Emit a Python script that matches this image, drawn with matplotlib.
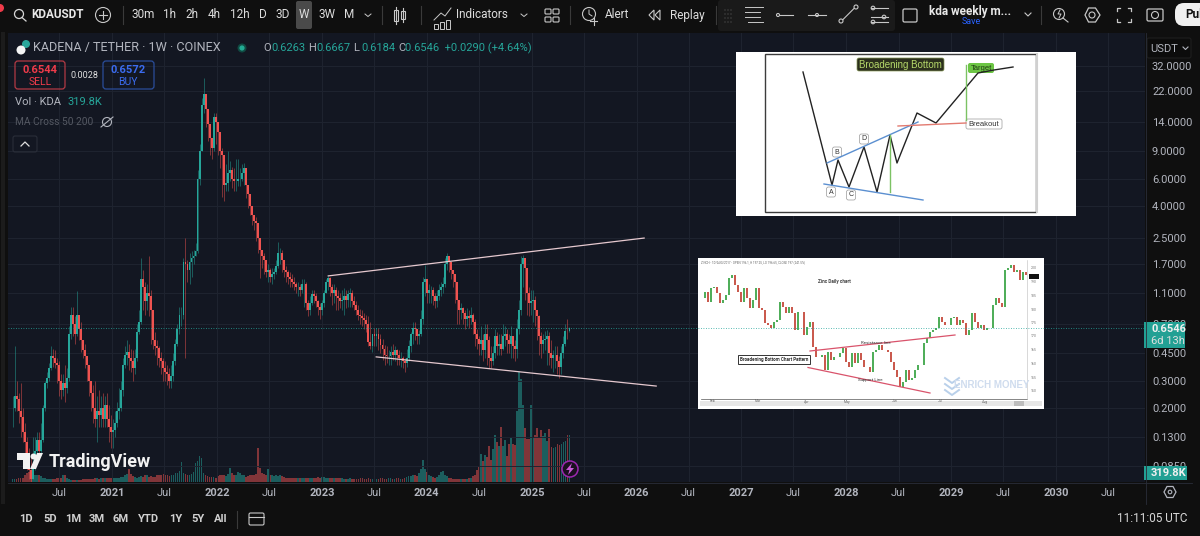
import datetime as dt
import matplotlib
matplotlib.use("Agg")
from matplotlib import pyplot as plt
from matplotlib import dates as mdates
from matplotlib.lines import Line2D
from matplotlib.patches import Circle, FancyBboxPatch, Polygon, Rectangle
from matplotlib.ticker import NullFormatter, NullLocator

# KDA weekly candles, one value per week
closes = [
    .20, .24, .23, .19, .175, .14, .12, .10, .08, .07,
    .085, .105, .125, .105, .125, .20, .29, .31, .36, .43,
    .42, .39, .38, .30, .26, .29, .27, .31, .60, .80,
    .70, .60, .80, .65, .55, .47, .43, .38, .30, .25,
    .20, .17, .19, .18, .20, .17, .21, .17, .15, .14,
    .145, .16, .19, .20, .26, .38, .44, .46, .42, .40,
    .36, .42, .62, .72, 1.35, 1.2, .98, 1.1, 1.05, .85,
    .55, .50, .49, .42, .40, .36, .34, .33, .30, .32,
    .40, .52, .65, .80, .80, 1.75, 1.7, 1.55, 1.75, 1.85,
    1.9, 2.05, 6.0, 9, 18, 21, 17, 13.5, 11, 9.5,
    15, 14, 12, 9, 8.5, 5.5, 5.6, 6.5, 6.8, 6.0,
    5.8, 5.8, 6.0, 6.0, 6.5, 7.0, 5.5, 4.8, 4.0, 3.5,
    3.2, 3.1, 2.5, 2.1, 1.9, 1.8, 1.5, 1.55, 1.4, 1.45,
    1.5, 1.65, 2.0, 2.0, 1.8, 1.55, 1.5, 1.4, 1.35, 1.3,
    1.25, 1.2, 1.2, 1.15, 1.25, 1.25, .95, .85, .95, 1.08,
    1.05, .98, .90, .85, .95, 1.1, 1.3, 1.38, 1.2, 1.1,
    1.15, 1.05, 1.02, .98, 1.0, 1.05, 1.0, 1.08, 1.1, .98,
    .92, .86, .80, .78, .76, .74, .70, .53, .50, .60,
    .58, .60, .56, .51, .48, .44, .43, .43, .46, .44,
    .47, .44, .42, .42, .40, .39, .42, .50, .60, .66,
    .65, .58, .60, .75, 1.3, 1.35, 1.1, 1.15, 1.15, 1.05,
    .98, 1.05, 1.15, 1.2, 1.25, 1.7, 1.9, 1.75, 1.55, 1.45,
    1.3, 1.0, .85, .88, .82, .75, .78, .76, .80, .72,
    .60, .56, .52, .55, .47, .60, .55, .42, .40, .45,
    .58, .50, .52, .48, .58, .60, .55, .52, .58, .50,
    .48, .65, .85, 1.7, 1.85, 1.6, 1.1, .95, .98, 1.0,
    .85, .78, .58, .52, .55, .56, .58, .45, .42, .44,
    .44, .40, .37, .45, .52, .63, .6263, .6546,
]
highs = [
    .24, .50, .30, .25, .29, .20, .16, .13, .11, .10,
    .13, .13, .14, .14, .16, .21, .30, .34, .39, .50,
    .48, .47, .42, .40, .33, .33, .38, .36, .68, .89,
    .90, .78, 1.13, .80, .72, .55, .52, .43, .36, .30,
    .28, .30, .24, .26, .24, .25, .24, .25, .21, .18,
    .17, .19, .22, .27, .30, .42, .50, .55, .52, .48,
    .47, .48, .70, .85, 1.86, 1.55, 1.30, 1.25, 1.92, 1.15,
    .70, .62, .55, .50, .46, .42, .40, .38, .36, .38,
    .45, .56, .70, .90, .90, 1.85, 2.5, 1.8, 2.0, 2.05,
    2.1, 2.3, 6.8, 10, 20, 26.7, 21, 15, 13, 11,
    16, 16, 14, 10, 9.5, 7, 7.5, 9.1, 7.8, 7.2,
    7, 8, 8, 7, 7.5, 7.6, 6, 5.2, 4.4, 3.9,
    3.4, 3.4, 3.1, 2.4, 2.1, 2.0, 1.8, 1.7, 1.6, 1.6,
    1.6, 1.8, 2.34, 2.15, 2.1, 1.75, 1.65, 1.55, 1.5, 1.45,
    1.4, 1.3, 1.3, 1.25, 1.35, 1.35, 1.3, 1.0, 1.05, 1.15,
    1.15, 1.1, 1.0, .95, 1.0, 1.15, 1.35, 1.42, 1.4, 1.25,
    1.25, 1.2, 1.15, 1.1, 1.15, 1.18, 1.15, 1.15, 1.18, 1.15,
    1.05, .98, .92, .87, .85, .82, .80, .78, .72, .60,
    .66, .66, .66, .60, .56, .51, .50, .47, .50, .52,
    .50, .48, .47, .46, .43, .42, .48, .55, .62, .72,
    .72, .65, .64, .85, 1.4, 1.66, 1.25, 1.25, 1.22, 1.2,
    1.1, 1.15, 1.25, 1.3, 1.4, 1.85, 2.0, 1.9, 1.65, 1.55,
    1.4, 1.1, .95, .95, .9, .85, .88, .85, .90, .82,
    .75, .65, .58, .68, .60, .70, .70, .58, .50, .50,
    .65, .62, .60, .60, .70, .68, .65, .60, .68, .58,
    .55, .75, 1.0, 1.9, 1.95, 1.8, 1.3, 1.2, 1.15, 1.15,
    1.05, .85, .80, .62, .60, .63, .64, .62, .55, .47,
    .50, .50, .43, .50, .58, .70, .75, .6667,
]
lows = [
    .15, .19, .19, .16, .13, .12, .10, .08, .07, .066,
    .07, .08, .10, .10, .10, .12, .19, .27, .30, .35,
    .37, .36, .29, .24, .23, .24, .22, .25, .30, .56,
    .58, .52, .58, .55, .46, .42, .36, .30, .24, .19,
    .16, .15, .12, .15, .15, .15, .15, .15, .12, .11,
    .11, .13, .15, .17, .19, .24, .36, .38, .35, .34,
    .30, .33, .40, .60, .70, .85, .80, .85, .78, .52,
    .48, .44, .38, .37, .33, .30, .30, .28, .27, .27,
    .30, .38, .50, .60, .68, .75, .42, 1.3, 1.25, 1.4,
    1.7, 1.9, 2.0, 5.5, 9, 16, 13, 10.5, 8.5, 8,
    9, 10, 8.5, 7, 4.6, 4.3, 5, 5, 5.8, 5.2,
    5, 5, 5.4, 5.4, 5.8, 5.5, 4.5, 3.9, 3.5, 3.0,
    2.8, 2.4, 2.0, 1.38, 1.6, 1.45, 1.4, 1.3, 1.3, 1.25,
    1.35, 1.45, 1.6, 1.7, 1.5, 1.4, 1.3, 1.25, 1.2, 1.2,
    1.15, 1.1, 1.05, 1.05, 1.1, .90, .85, .78, .80, .92,
    .95, .90, .80, .75, .80, .90, 1.1, 1.15, 1.05, .92,
    .95, .85, .85, .88, .85, .80, .88, .90, .90, .90,
    .85, .80, .74, .70, .68, .65, .62, .50, .48, .46,
    .50, .50, .47, .45, .41, .38, .39, .38, .38, .41,
    .40, .38, .38, .37, .36, .34, .37, .40, .46, .52,
    .55, .52, .52, .58, .70, 1.05, .95, .95, .95, .92,
    .88, .90, 1.0, 1.05, 1.1, 1.2, 1.55, 1.5, 1.35, 1.2,
    .95, .70, .70, .75, .70, .65, .68, .66, .70, .60,
    .50, .48, .44, .44, .40, .42, .38, .36, .36, .38,
    .42, .44, .44, .44, .47, .50, .45, .45, .42, .42,
    .40, .42, .60, .80, 1.2, 1.0, .80, .78, .80, .72,
    .68, .55, .44, .42, .45, .47, .38, .38, .36, .34,
    .36, .33, .31, .33, .42, .50, .56, .6184,
]
# weekly volume, thousands of KDA
volumes = [
    20, 20, 20, 25, 25, 25, 50, 60, 70, 55,
    55, 50, 50, 45, 40, 30, 25, 20, 20, 20,
    20, 20, 25, 25, 25, 45, 50, 30, 20, 15,
    15, 14, 14, 14, 14, 18, 18, 20, 18, 20,
    20, 25, 25, 20, 25, 30, 30, 25, 28, 25,
    30, 28, 30, 30, 35, 35, 50, 55, 85, 55,
    40, 35, 30, 35, 40, 35, 45, 50, 35, 40,
    35, 35, 50, 45, 50, 55, 50, 45, 40, 50,
    50, 60, 60, 75, 135, 60, 55, 50, 50, 55,
    70, 130, 140, 180, 160, 60, 45, 40, 35, 35,
    35, 30, 40, 45, 45, 50, 40, 55, 95, 60,
    50, 45, 70, 60, 50, 45, 35, 40, 45, 50,
    50, 55, 230, 95, 60, 55, 50, 90, 50, 50,
    40, 45, 40, 45, 40, 35, 30, 30, 30, 25,
    25, 25, 28, 28, 25, 25, 28, 30, 30, 30,
    30, 30, 35, 30, 35, 35, 30, 30, 28, 25,
    25, 25, 25, 28, 25, 20, 20, 20, 25, 22,
    22, 20, 20, 25, 25, 20, 20, 25, 22, 22,
    18, 20, 22, 25, 25, 20, 20, 25, 25, 22,
    22, 25, 25, 20, 22, 30, 35, 40, 40, 45,
    50, 40, 60, 90, 150, 90, 70, 50, 40, 35,
    30, 35, 50, 70, 75, 50, 40, 25, 25, 22,
    22, 20, 20, 22, 20, 18, 22, 25, 30, 40,
    45, 80, 100, 190, 140, 185, 170, 245, 150, 225,
    320, 270, 245, 375, 245, 285, 180, 260, 300, 260,
    250, 480, 750, 700, 520, 370, 295, 290, 525, 300,
    320, 370, 300, 350, 310, 330, 280, 360, 240, 230,
    235, 260, 250, 260, 270, 280, 320, 319.8,
]
first_week = dt.date(2020, 1, 20)

price_ticks = [32, 22, 14, 9, 6, 4, 2.5, 1.7, 1.1, 0.7, 0.45, 0.3, 0.2, 0.13, 0.085]
time_ticks = [
    ("Jul", 2020, 7), ("2021", 2021, 1), ("Jul", 2021, 7), ("2022", 2022, 1), ("Jul", 2022, 7),
    ("2023", 2023, 1), ("Jul", 2023, 7), ("2024", 2024, 1), ("Jul", 2024, 7), ("2025", 2025, 1),
    ("Jul", 2025, 7), ("2026", 2026, 1), ("Jul", 2026, 7), ("2027", 2027, 1), ("Jul", 2027, 7),
    ("2028", 2028, 1), ("Jul", 2028, 7), ("2029", 2029, 1), ("Jul", 2029, 7), ("2030", 2030, 1),
    ("Jul", 2030, 7),
]

# drawn channel lines on the main chart
upper_dates = [dt.date(2023, 1, 23), dt.date(2026, 1, 27)]
upper_prices = [1.42, 2.49]
lower_dates = [dt.date(2023, 7, 9), dt.date(2026, 3, 10)]
lower_prices = [.427, .277]

# zinc daily closes for the second pasted chart
zinc_closes = [
    183.6, 186, 182.4, 187.2, 187.8, 185.4, 181.8, 183, 184.8, 190.9,
    192, 188.4, 186, 182.4, 187.2, 183.6, 180, 183, 187.2, 180,
    179.4, 174.6, 174, 172.8, 175.2, 175.8, 182.4, 180.6, 178.2, 180.6,
    178.2, 172.2, 178.8, 178.8, 170.4, 173.4, 175.2, 166.1, 162.5, 162.5,
    163.1, 157.7, 164.3, 161.3, 162.5, 162.5, 163.7, 165.5, 160.7, 158.9,
    163.7, 160.1, 163.7, 161.3, 158.9, 158.9, 157.1, 164.3, 164.9, 166.7,
    164.9, 164.9, 164.3, 160.7, 157.7, 155.3, 151.7, 153.5, 157.7, 154.1,
    154.7, 157.7, 159.5, 159.5, 167.4, 169.2, 171.6, 172.2, 172.8, 177,
    175.2, 174, 174, 176.4, 177, 174, 175.8, 174.6, 170.4, 172.2,
    178.2, 175.2, 172.8, 174, 172.2, 172.8, 172.8, 181.2, 183.6, 181.8,
    180.6, 193.9, 194.5, 195.7, 193.3, 193.9, 190.2, 193.3, 192,
]

# broadening bottom sketch, in picture pixels
sketch_x = [803, 832, 838, 849, 864, 877, 890, 897, 917, 936, 978, 994, 1013]
sketch_y = [72, 185, 160, 187, 147, 192, 135, 163, 113, 123, 73, 70, 67]

TEAL = "#26a69a"
RED = "#ef5350"
BG = "#131722"
BAR = "#0f0f0f"
GRID = "#1f2430"
TEXT = "#b2b5be"
W, H = 1200, 536

plt.rcParams["font.family"] = ["Roboto", "DejaVu Sans"]

fig = plt.figure(figsize=(12, 5.36), dpi=100, facecolor=BAR)


def px_rect(left, top, right, bottom):
    return [left / W, 1 - bottom / H, (right - left) / W, (bottom - top) / H]


def x_date(px):
    return dt.date(2021, 1, 1) + dt.timedelta(days=(px - 112) / 0.2872)


pane = px_rect(8, 33, 1145, 482)
xmin, xmax = mdates.date2num(x_date(8)), mdates.date2num(x_date(1145))

dates = [first_week + dt.timedelta(days=7 * i) for i in range(len(closes))]
nums = mdates.date2num(dates)
opens = [closes[0]] + closes[:-1]
colors = [TEAL if c >= o else RED for o, c in zip(opens, closes)]

vol_ax = fig.add_axes(pane, facecolor=BG, zorder=1)
vol_ax.bar(nums, volumes, width=6.0, color=colors, alpha=0.5, linewidth=0)
vol_ax.set_xlim(xmin, xmax)
vol_ax.set_ylim(0, 3050)
vol_ax.set_xticks([])
vol_ax.set_yticks([])
for s in vol_ax.spines.values():
    s.set_visible(False)

ax = fig.add_axes(pane, facecolor="none", zorder=2)
ax.set_yscale("log")
ax.set_xlim(xmin, xmax)
ax.set_ylim(0.0667, 52.2)
ax.vlines(nums, lows, highs, colors=colors, linewidth=0.45, alpha=0.75, zorder=3)
ax.bar(nums, [abs(c - o) for o, c in zip(opens, closes)], bottom=[min(o, c) for o, c in zip(opens, closes)],
       width=6.6, color=colors, linewidth=0, zorder=4)
ax.plot(mdates.date2num(upper_dates), upper_prices, color="#e6c9cf", lw=0.9, zorder=5)
ax.plot(mdates.date2num(lower_dates), lower_prices, color="#e6c9cf", lw=0.9, zorder=5)

ax.yaxis.tick_right()
ax.yaxis.set_minor_locator(NullLocator())
ax.yaxis.set_minor_formatter(NullFormatter())
ax.set_yticks(price_ticks)
ax.set_yticklabels(["%.4f" % p for p in price_ticks])
ax.set_xticks(mdates.date2num([dt.date(y, m, 1) for _, y, m in time_ticks]))
ax.set_xticklabels([t[0] for t in time_ticks])
ax.tick_params(axis="y", length=0, pad=5, labelsize=8, labelcolor=TEXT)
ax.tick_params(axis="x", length=0, pad=4, labelsize=8, labelcolor=TEXT)
for lab, t in zip(ax.get_xticklabels(), time_ticks):
    if t[0] != "Jul":
        lab.set_fontweight("bold")
ax.grid(True, color=GRID, lw=0.7, zorder=0)
ax.set_axisbelow(True)
for s in ax.spines.values():
    s.set_visible(False)

# pasted zinc chart
zinc = fig.add_axes(px_rect(698, 258, 1044, 409), facecolor="white", zorder=3)
zinc_x = list(range(len(zinc_closes)))
zinc_open = [zinc_closes[0]] + zinc_closes[:-1]
zinc_col = ["#2e9e3a" if c >= o else "#c0392b" for o, c in zip(zinc_open, zinc_closes)]
zinc.vlines(zinc_x, [min(o, c) for o, c in zip(zinc_open, zinc_closes)],
            [max(o, c) for o, c in zip(zinc_open, zinc_closes)], colors=zinc_col, lw=1.2)
zinc.set_xlim(-1.22, 114.1)
zinc.set_ylim(143.6, 198.2)
zinc.set_xticks([])
zinc.set_yticks([])
for s in zinc.spines.values():
    s.set_visible(False)

# everything else sits on one overlay in picture pixels
ui = fig.add_axes([0, 0, 1, 1], facecolor="none", zorder=4)
ui.set_xlim(0, W)
ui.set_ylim(H, 0)
ui.axis("off")


def label(x, y, s, color=TEXT, size=8, ha="center", weight="normal", **kw):
    return ui.text(x, y, s, color=color, fontsize=size, ha=ha, va="center", fontweight=weight, **kw)


def line(xs, ys, color="#c8c8c8", lw=0.8, **kw):
    ui.add_line(Line2D(xs, ys, color=color, lw=lw, **kw))


def rect(x0, y0, x1, y1, fc="none", ec="none", lw=0.8, round_px=0):
    if round_px:
        ui.add_patch(FancyBboxPatch((x0, y0), x1 - x0, y1 - y0, boxstyle="round,pad=0,rounding_size=%s" % round_px,
                                    fc=fc, ec=ec, lw=lw))
    else:
        ui.add_patch(Rectangle((x0, y0), x1 - x0, y1 - y0, fc=fc, ec=ec, lw=lw))


def ring(x, y, r, ec="#c8c8c8", fc="none", lw=0.8):
    ui.add_patch(Circle((x, y), r, fc=fc, ec=ec, lw=lw))


# frame strips
rect(0, 0, W, 32, fc=BAR)
rect(0, 32, 8, H, fc=BAR)
rect(1, 32, 5, H, fc="#1c1c1c")
rect(1192, 32, W, H, fc=BAR)
rect(0, 504, W, H, fc=BAR)
line([8, 1192], [482.5, 482.5], color="#2a2e39", lw=0.6)
line([1145.5, 1145.5], [33, 504], color="#2a2e39", lw=0.6)

# top toolbar
ring(0, 8, 4, ec="none", fc="#ef3b4a")
ring(19, 14, 4.5, ec="#d8d8d8", lw=0.9)
line([22, 26], [17.5, 21], color="#d8d8d8", lw=0.9)
label(31, 15, "KDAUSDT", "#e8e8e8", 8.5, "left", "bold")
ring(103, 15, 7.5, ec="#c8c8c8")
line([99, 107], [15, 15]); line([103, 103], [11, 19])
for sep_x in [123, 382, 421, 570, 716, 1041]:
    line([sep_x, sep_x], [6, 24], color="#3a3a3a", lw=0.8)
rect(296, 1, 312, 29, fc="#4a4a4a", round_px=2)
for s, x in [("30m", 143), ("1h", 170), ("2h", 192), ("4h", 214), ("12h", 240), ("D", 263), ("3D", 283),
             ("W", 304), ("3W", 327), ("M", 349)]:
    label(x, 15, s, "#dcdcdc", 8.5)
line([365, 368, 371], [14, 16.5, 14], lw=0.7)
# candle icon
rect(394, 10, 398, 21, ec="#c8c8c8"); line([396, 396], [7, 24]); rect(401, 11, 405, 19, ec="#c8c8c8"); line([403, 403], [8, 22])
# indicators icon
line([434, 441, 445, 451], [20, 13, 16, 8], lw=0.7)
for bx, btop in [(434, 24), (440, 22), (446, 20)]:
    rect(bx, btop, bx + 4, 29, ec="#c8c8c8", lw=0.7)
label(456, 15, "Indicators", "#dcdcdc", 8.5, "left")
line([521, 524, 527], [14, 16.5, 14], lw=0.7)
for gx, gy in [(545, 9), (553, 9), (545, 17), (553, 17)]:
    rect(gx, gy, gx + 6, gy + 5, ec="#c8c8c8", round_px=1)
ring(589, 14, 6.5); line([589, 589, 592], [10, 14, 16], lw=0.7); line([590, 597], [21, 21]); line([593.5, 593.5], [17.5, 24.5])
label(605, 15, "Alert", "#dcdcdc", 8.5, "left")
ui.add_patch(Polygon([[654, 10], [649, 15], [654, 20]], fc="none", ec="#c8c8c8", lw=0.8))
ui.add_patch(Polygon([[660, 10], [655, 15], [660, 20]], fc="none", ec="#c8c8c8", lw=0.8))
label(670, 15, "Replay", "#dcdcdc", 8.5, "left")
rect(718, 0, 895, 31, fc="#1a1a1a", round_px=3)
for dx in [725, 728, 731]:
    for dy in [10, 14, 18, 22]:
        ring(dx, dy, 0.4, ec="#444444", lw=0.5)
for ly, lx0, lx1 in [(7, 745, 763), (12, 745, 760), (17, 745, 760), (22, 748, 763)]:
    line([lx0, lx1], [ly, ly], lw=0.7)
ring(778, 15, 1.5); line([780, 793], [15, 15])
ring(817, 15, 1.5); line([808, 826], [15, 15])
ring(841, 21, 2); ring(856, 7, 2); line([843, 854], [19.5, 8.5])
for ty, tx in [(8, 873), (17, 884), (22, 873)]:
    line([871, 888], [ty, ty]); ring(tx, ty, 1.8, fc="#1a1a1a")
rect(903, 9, 917, 22, ec="#c8c8c8", lw=0.9, round_px=1.5)
label(970, 11, "kda weekly m...", "#e8e8e8", 8.5, weight="bold")
label(971, 22, "Save", "#2962ff", 6.5)
line([1025, 1028, 1031], [13, 16, 13], lw=0.8)
ring(1059, 14, 5.5); line([1063, 1068], [18, 22]); line([1060, 1058, 1061, 1059], [10, 14, 14, 18], lw=0.7)
ui.add_patch(Polygon([[1085, 15], [1088.5, 8], [1095.5, 8], [1100, 15], [1095.5, 22], [1088.5, 22]], fc="none", ec="#c8c8c8", lw=0.9))
ring(1092, 15, 3)
for fx, fy, sx, sy in [(1117, 8, 1, 1), (1131, 8, -1, 1), (1117, 22, 1, -1), (1131, 22, -1, -1)]:
    line([fx, fx, fx + 3 * sx], [fy + 3 * sy, fy, fy], lw=0.9)
rect(1147, 9, 1163, 21, ec="#c8c8c8", lw=0.9, round_px=1.5)
ring(1155, 15, 3.5)
rect(1175, 3, 1230, 26, fc="#f0f0f0", round_px=9)
label(1185, 15, "Pul", "#111111", 8.5, "left", "bold")

# chart header
ring(26, 44, 4, fc="#2aa79b", ec="none")
ring(21, 50, 4.5, fc="#f5f5f5", ec="none")
label(33, 48, "KADENA / TETHER · 1W · COINEX", TEXT, 9.1, "left")
ring(242, 48, 4.5, fc="#114a42", ec="none")
ring(242, 48, 2.6, fc="#22ab94", ec="none")
for x, s, v in [(263, "O", "0.6263"), (308, "H", "0.6667"), (353, "L", "0.6184")]:
    label(x, 48, s, TEXT, 8, "left")
    label(x + 8, 48, v, TEAL, 8, "left")
label(398, 48, "C", TEXT, 8, "left")
label(405, 48, "0.6546  +0.0290 (+4.64%)", TEAL, 8, "left")
rect(15, 61, 65, 89, ec="#b23a44", lw=0.9, round_px=3)
label(40, 70, "0.6544", "#ef3b4a", 8, weight="bold")
label(40, 82, "SELL", "#ef3b4a", 7.5)
label(84, 75, "0.0028", "#e0e0e0", 6.5)
rect(103, 61, 154, 89, ec="#2a4d9a", lw=0.9, round_px=3)
label(128, 70, "0.6572", "#3b6cf0", 8, weight="bold")
label(128, 82, "BUY", "#3b6cf0", 7.5)
label(15, 102, "Vol · KDA", TEXT, 8, "left")
label(67, 102, "319.8K", TEAL, 8, "left")
label(15, 122, "MA Cross 50 200", "#555963", 7.3, "left")
ring(107, 122, 4.5, ec="#b2b5be"); line([101, 113], [127, 117], color="#b2b5be")
rect(13, 136, 37, 152, ec="#2a2e39", round_px=2)
line([21, 25, 29], [146, 142, 146], color="#e0e0e0", lw=0.9)

# price scale extras
rect(1147, 38, 1191, 58, fc="#0c0c0c", ec="#1e1e1e", round_px=2)
label(1150, 49, "USDT", TEXT, 8, "left")
line([1183, 1185.5, 1188], [47, 49.5, 47], color=TEXT, lw=0.8)
rect(1144, 322, 1185, 348, fc="#22a094")
label(1151, 329, "0.6546", "#f0f0f0", 8, "left", "bold")
label(1151, 341, "6d 13h", "#e0e0e0", 8, "left")
rect(1144, 466, 1187, 480, fc="#22a094")
label(1151, 473, "319.8K", "#f0f0f0", 8, "left", "bold")
ui.add_patch(Polygon([[1164, 492], [1167, 486.5], [1173, 486.5], [1176, 492], [1173, 497.5], [1167, 497.5]],
                     fc="none", ec=TEXT, lw=0.9))
ring(1170, 492, 1.8, ec=TEXT)

# bottom bar
for s, x in [("1D", 26), ("5D", 50), ("1M", 73), ("3M", 97), ("6M", 121), ("YTD", 149), ("1Y", 176), ("5Y", 198), ("All", 221)]:
    label(x, 519, s, "#d0d0d0", 8, weight="bold")
line([237, 237], [511, 528], color="#3a3a3a")
rect(249, 513, 264, 525, ec="#c8c8c8", round_px=1.5)
line([249, 264], [516.5, 516.5])
label(1187, 519, "11:11:05 UTC", "#d8d8d8", 8.5, "right")

# TradingView logo
rect(17, 453, 30, 460, fc="#f2f2f2")
rect(23, 460, 30, 469, fc="#f2f2f2")
ring(33.5, 456.5, 3, ec="none", fc="#f2f2f2")
ui.add_patch(Polygon([[37, 453], [43, 453], [36, 469], [30, 469]], fc="#f2f2f2", ec="none"))
label(49, 462, "TradingView", "#f2f2f2", 13, "left", "bold")
ring(570, 469, 8, ec="#9c27b0", fc="#1b1020", lw=1.1)
ui.add_patch(Polygon([[572, 463], [566, 470], [569.5, 470], [568, 475], [574, 468], [570.5, 468]], fc="#c95bd8", ec="none"))

# pasted sketch, white card
rect(736, 52, 1076, 216, fc="white")
rect(765, 53.5, 1036, 212, fc="white", ec="#3c3c3c", lw=1.0)
line([1037, 1037], [54, 212], color="#d0d0d0", lw=1.5)
line(sketch_x, sketch_y, color="#222222", lw=1.0)
line([827, 918], [163, 122], color="#5b8fd0", lw=1.0)
line([824, 923], [184, 200], color="#5b8fd0", lw=1.0)
line([898, 966], [126, 123], color="#e27a70", lw=1.0)
line([890, 890], [135, 192], color="#7cc264", lw=1.0)
line([966, 966], [65, 120], color="#7cc264", lw=1.0)
rect(857, 58, 944, 71, fc="#2b2f1d", ec="#8a9a5a", lw=0.5, round_px=2)
label(900.5, 64.5, "Broadening Bottom", "#b6d96a", 7, family="Liberation Sans")
rect(968, 63, 994, 73, fc="#6cc544", round_px=2)
label(981, 68, "Target", "#1f3a12", 5.5, family="Liberation Sans")
rect(966, 119, 1002, 129, fc="white", ec="#aaaaaa", lw=0.6, round_px=2)
label(984, 124.5, "Breakout", "#333333", 5.5, family="Liberation Sans")
for s, x, y in [("A", 831, 192), ("B", 837, 152), ("C", 851, 195), ("D", 864, 139)]:
    rect(x - 4.5, y - 5, x + 4.5, y + 5, fc="white", ec="#999999", lw=0.5, round_px=2)
    label(x, y, s, "#333333", 5, family="Liberation Sans")

# pasted zinc chart notes
line([701, 1027], [399, 399], color="#555555", lw=0.5)
line([1027, 1027], [260, 399], color="#bbbbbb", lw=0.4)
rect(700, 401, 1042, 406, fc="#e6e6e6")
rect(1014, 401, 1024, 406, fc="#bdbdbd")
label(701, 262.5, "ZINCH - 1D/AUG/2017 - OPEN 196.1, H 197.25, LO 196.65, CLOSE 197 (241.5%)", "#666666", 2.2, "left")
label(834, 282, "Zinc Daily chart", "#444444", 3.4, weight="bold")
rect(738, 355, 810, 363.5, fc="white", ec="#333333", lw=0.7)
label(774, 359.5, "Broadening Bottom Chart Pattern", "#333333", 3.3, weight="bold")
line([810, 955], [351, 335], color="#d9536b", lw=0.9)
line([808, 930], [367.5, 393], color="#d9536b", lw=0.9)
label(876, 343, "Resistance line", "#333333", 3.2)
label(870, 380, "Support Line", "#333333", 3.2)
label(992, 385, "ENRICH MONEY", "#cfdcee", 7, family="Liberation Sans", weight="bold")
for off in [0, 6, 12]:
    line([945, 952, 959], [378 + off, 383 + off, 378 + off], color="#b9d0ea", lw=1.4)
rect(1029, 273.5, 1039, 279, fc="#111111")
for y_tick, s in zip([268, 282, 296, 310, 323, 336, 350, 364, 378, 391], ["200", "190", "185", "180", "175", "170", "165", "160", "155", "150"]):
    label(1034, y_tick, s, "#777777", 2.5)
for s, x in [("Feb", 713), ("Mar", 758), ("Apr", 807), ("May", 847), ("Jun", 895), ("Jul", 940), ("Aug", 985)]:
    label(x, 401.5, s, "#666666", 2.5)

# last price line runs over the pasted chart
fig.add_artist(Line2D([0, 1], [0.6546, 0.6546], transform=ax.get_yaxis_transform(), color=TEAL, lw=0.6,
                      ls=(0, (1, 2)), zorder=3.5))

fig.savefig("out.png", dpi=100, facecolor=BAR)
